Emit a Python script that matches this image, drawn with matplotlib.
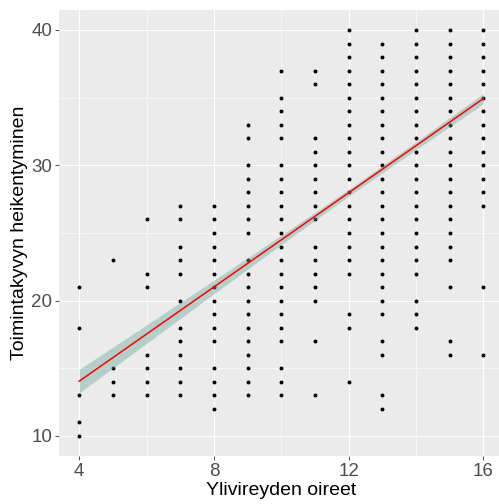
import matplotlib
matplotlib.use("Agg")
import matplotlib.pyplot as plt
import numpy as np

# ---- data ----
col_x = [4, 5, 6, 7, 8, 9, 10, 11, 12, 13, 14, 15, 16]
col_y = [
    [10, 11, 13, 18, 21],
    [13, 14, 15, 23],
    [13, 14, 15, 16, 21, 22, 26],
    [13, 14, 15, 16, 17, 18, 20, 22, 23, 24, 26, 27],
    [12, 13, 14, 15, 17, 18, 19, 20, 21, 22, 23, 24, 25, 26, 27],
    [13, 14, 15, 16, 17, 18, 19, 20, 21, 22, 23, 25, 26, 27, 28, 29, 30, 32, 33],
    [13, 14, 15, 17, 18, 19, 20, 21, 22, 23, 24, 25, 26, 27, 28, 29, 30, 32, 33, 34, 35, 37],
    [13, 17, 20, 21, 22, 23, 24, 26, 27, 28, 29, 30, 31, 32, 36, 37],
    [14, 18, 19] + list(range(22, 41)),
    [12, 13, 16, 17] + list(range(19, 40)),
    [18, 19, 20] + list(range(22, 41)),
    [16, 17, 21] + list(range(23, 41)),
    [16, 21] + list(range(27, 41)),
]

# fitted line (read at the ends) and confidence band half-widths
line_x = [4, 16]
line_y = [14.05, 34.93]
band_x = [4, 6, 8, 10, 12, 14, 16]
band_half = [0.87, 0.68, 0.50, 0.34, 0.25, 0.29, 0.38]

x_ticks = [4, 8, 12, 16]
y_ticks = [10, 20, 30, 40]
x_label = "Ylivireyden oireet"
y_label = "Toimintakyvyn heikentyminen"

# ---- figure ----
plt.rcParams['font.family'] = ['Liberation Sans', 'DejaVu Sans']
W, H = 499, 504
fig = plt.figure(figsize=(W / 100, H / 100), dpi=100)
left, right, top, bottom = 59, 503.5, 9.7, 456.3
ax = fig.add_axes([left / W, 1 - bottom / H, (right - left) / W, (bottom - top) / H])
ax.set_facecolor('#EBEBEB')
for s in ax.spines.values():
    s.set_visible(False)

ax.set_xlim(3.4, 16.6)
ax.set_ylim(8.5, 41.5)
ax.set_xticks(x_ticks)
ax.set_yticks(y_ticks)
ax.set_xticks([6, 10, 14], minor=True)
ax.set_yticks([15, 25, 35], minor=True)
ax.grid(True, which='major', color='white', linewidth=0.8)
ax.grid(True, which='minor', color='white', linewidth=0.4)
ax.set_axisbelow(True)
ax.tick_params(which='major', length=2.75, width=0.6, color='#333333',
               labelsize=13.5, labelcolor='#4D4D4D', pad=2.2)
ax.tick_params(which='minor', length=0)

px, py = [], []
for x, ys in zip(col_x, col_y):
    for y in ys:
        px.append(x)
        py.append(y)
ax.scatter(px, py, s=8, color='black', linewidths=0, zorder=3)

bx = np.array(band_x, dtype=float)
center = np.interp(bx, line_x, line_y)
half = np.array(band_half)
ax.fill_between(bx, center - half, center + half, color='#6AA89A', alpha=0.42,
                linewidth=0, zorder=4)
ax.plot(line_x, line_y, color='#FF0000', linewidth=1.1, zorder=5)

ax.set_xlabel(x_label, fontsize=14, color='black', labelpad=1.5)
ax.set_ylabel(y_label, fontsize=14, color='black', labelpad=2.5)

fig.savefig('out.png', dpi=100)
